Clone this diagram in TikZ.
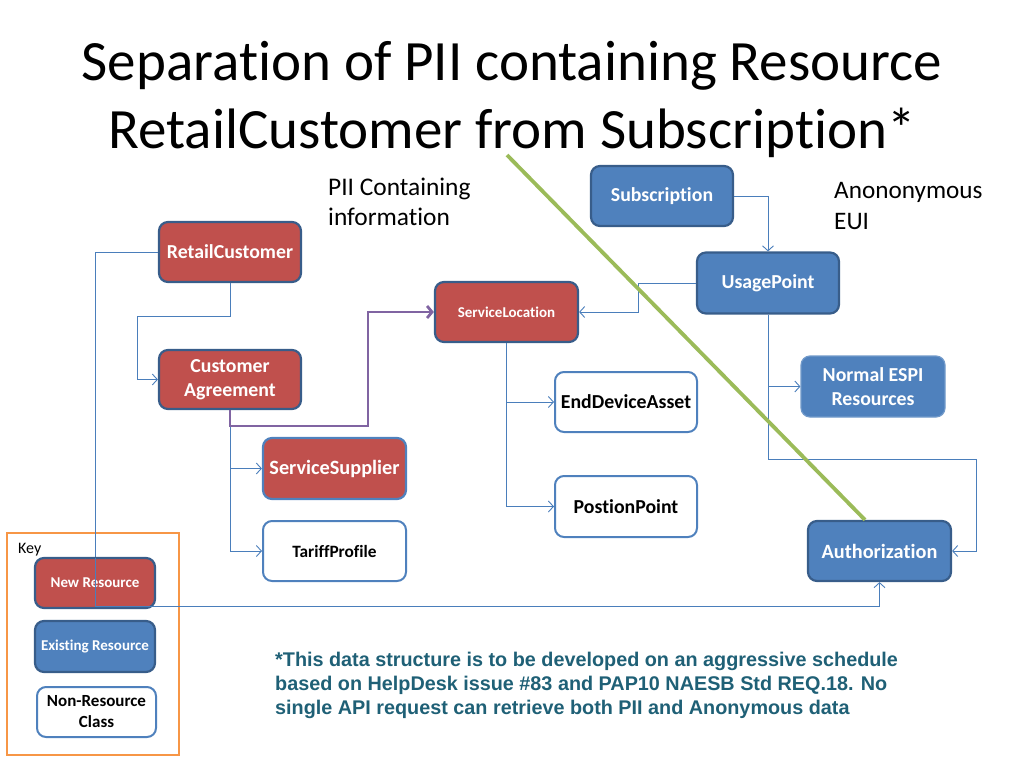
\documentclass[tikz,border=0pt]{standalone}
\usepackage{fontspec}
\setmainfont{Carlito}[Ligatures=NoCommon]
\newfontfamily\arialf{Liberation Sans}
\usetikzlibrary{arrows.meta}
\definecolor{resred}{HTML}{C0504D}
\definecolor{resblue}{HTML}{4F81BD}
\definecolor{bdark}{HTML}{385D8A}
\definecolor{conblue}{HTML}{4A7EBB}
\definecolor{purp}{HTML}{8064A2}
\definecolor{greenl}{HTML}{9BBB59}
\definecolor{keyor}{HTML}{F79646}
\definecolor{noteteal}{HTML}{1F6076}
\tikzset{
  box/.style={rounded corners=9pt, line width=2.2pt, draw=bdark, font=\bfseries, text=white, align=center, inner sep=0pt, anchor=center},
  newres/.style={box, fill=resred},
  oldres/.style={box, fill=resblue},
  nonres/.style={box, fill=white, draw=resblue, line width=2pt, text=black},
  conn/.style={draw=conblue, line width=0.9pt, -{Straight Barb[length=5pt,width=11pt]}},
  plain/.style={draw=conblue, line width=0.9pt},
  pconn/.style={draw=purp, line width=2.8pt, -{Straight Barb[length=5pt,width=12pt]}},
}
\begin{document}
\begin{tikzpicture}[x=1pt,y=-1pt]
\useasboundingbox (0,0) rectangle (1024,768);
% title
\node[font=\fontsize{57}{64}\selectfont] (t1) at (512,66) {Separation of PII containing Resource};
\node[font=\fontsize{57}{64}\selectfont] (t2) at (512,133) {RetailCustomer from Subscription*};
\node[font=\fontsize{25.4}{30}\selectfont, align=left, anchor=north west, inner sep=0pt] (pii) at (328,178) {PII Containing\\information};
\node[font=\fontsize{25.2}{31}\selectfont, align=left, anchor=north west, inner sep=0pt] (anon) at (834,182) {Anononymous\\EUI};

% nodes
\node[oldres, minimum width=142pt, minimum height=60pt, font=\bfseries\fontsize{19.8}{23}\selectfont] (sub) at (662,196) {Subscription};
\node[newres, minimum width=142pt, minimum height=60pt, font=\bfseries\fontsize{19.8}{23}\selectfont] (rc) at (230,252) {RetailCustomer};
\node[oldres, minimum width=142pt, minimum height=61pt, font=\bfseries\fontsize{19.8}{23}\selectfont] (up) at (768,283) {UsagePoint};
\node[newres, minimum width=143pt, minimum height=60pt, font=\bfseries\fontsize{15}{18}\selectfont] (sl) at (506.5,312) {ServiceLocation};
\node[newres, minimum width=142pt, minimum height=59pt, font=\bfseries\fontsize{19.8}{24}\selectfont] (ca) at (230,379.5) {Customer\\Agreement};
\node[oldres, draw=resblue!80!white, line width=1.2pt, minimum width=144pt, minimum height=61pt, font=\bfseries\fontsize{19.8}{24}\selectfont] (espi) at (873,386.5) {Normal ESPI\\Resources};
\node[nonres, minimum width=142pt, minimum height=60pt, font=\bfseries\fontsize{19.8}{23}\selectfont] (eda) at (626,402) {EndDeviceAsset};
\node[newres, draw=resblue, minimum width=143pt, minimum height=61pt, font=\bfseries\fontsize{20.3}{23}\selectfont] (ss) at (334.5,468.5) {ServiceSupplier};
\node[nonres, minimum width=142pt, minimum height=61pt, font=\bfseries\fontsize{19.8}{23}\selectfont] (pp) at (626,506.5) {PostionPoint};
\node[nonres, minimum width=143pt, minimum height=60pt, font=\bfseries\fontsize{17.3}{20}\selectfont] (tp) at (334.5,551) {TariffProfile};
\node[oldres, minimum width=143pt, minimum height=60pt, font=\bfseries\fontsize{20.3}{23}\selectfont] (auth) at (879.5,551) {Authorization};

% key
\draw[keyor, line width=2.2pt] (7,533) rectangle (179,755);
\node[anchor=west, inner sep=0pt, font=\fontsize{16}{18}\selectfont] (key) at (18,550) {Key};

% connectors
\coordinate (k1) at (95,606);
\draw[conn] (rc.west) -| (k1) -| (auth.south);
\coordinate (k2) at (137,316);
\draw[conn] (rc.south) |- (k2) |- (ca.west);
\draw[conn] (ca.south) |- (ss.west);
\draw[conn] (ca.south) |- (tp.west);
\coordinate (k3) at (368,426);
\draw[pconn] (ca.south) |- (k3) |- (sl.west);
\draw[conn] (sl.south) |- (eda.west);
\draw[conn] (sl.south) |- (pp.west);
\coordinate (k6) at (638,283);
\draw[conn] (up.west) -- (k6) |- (sl.east);
\draw[conn] (sub.east) -| (up.north);
\draw[conn] (up.south) |- (espi.west);
\coordinate (k8) at (976,459);
\draw[conn] (up.south) |- (k8) |- (auth.east);

% key nodes
\node[newres, minimum width=120pt, minimum height=50pt, font=\bfseries\fontsize{15}{18}\selectfont] (nr) at (95,583) {New Resource};
\node[oldres, minimum width=120pt, minimum height=51pt, font=\bfseries\fontsize{15}{18}\selectfont] (er) at (95,646.5) {Existing Resource};
\node[nonres, minimum width=119pt, minimum height=50pt, font=\bfseries\fontsize{17}{21}\selectfont] (nrc) at (96.5,712) {Non-Resource\\Class};
\draw[plain] (95,558) -- (95,606) -- (155,606);

% green divider
\coordinate (g1) at (507,155);
\draw[greenl, line width=3.8pt] (g1) -- (auth.north -| 865,0);

% note
\node[anchor=north west, inner sep=0pt, align=left, text=noteteal, font=\arialf\bfseries\fontsize{19.8}{24}\selectfont] (note) at (275,652) {*This data structure is to be developed on an aggressive schedule\\based on HelpDesk issue \#83 and PAP10 NAESB Std REQ.18. No\\single API request can retrieve both PII and Anonymous data};
\end{tikzpicture}
\end{document}
